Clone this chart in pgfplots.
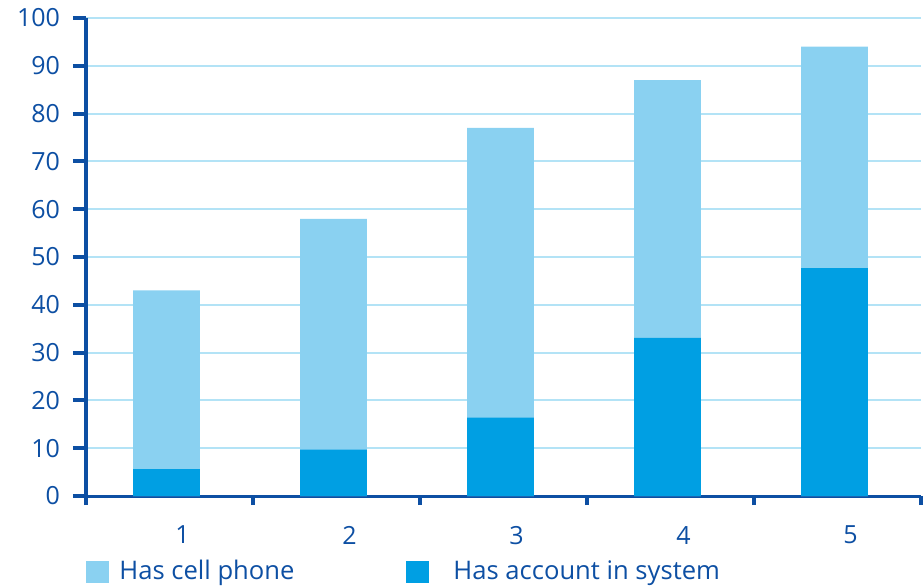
\documentclass[border=0pt]{standalone}
\usepackage{pgfplots}
\pgfplotsset{compat=1.18}
\usepackage{fontspec}
\setmainfont{Open Sans}
\definecolor{phone}{HTML}{8AD1F1}
\definecolor{account}{HTML}{009FE3}
\definecolor{axisblue}{HTML}{0D4FA3}
\definecolor{gridblue}{HTML}{B3E3F6}

\begin{document}
\begin{tikzpicture}
\begin{axis}[
  at={(0,0)}, anchor=south west,
  scale only axis, width=417.5pt, height=239pt,
  xmin=0.5, xmax=5.5, ymin=0, ymax=100,
  axis lines=left,
  axis line style={-, axisblue},
  x axis line style={line width=1.5pt},
  y axis line style={line width=2pt},
  tick align=outside,
  tick style={axisblue, line width=2pt},
  xtick={1,...,5},
  major x tick style={draw=none},
  minor xtick={0.5,1.5,...,5.5},
  minor tick length=4.5pt,
  ytick={0,10,...,100},
  major tick length=6.5pt,
  ymajorgrids,
  major grid style={gridblue, line width=1pt},
  /pgf/number format/assume math mode=true,
  every tick label/.append style={font=\fontsize{12.5}{15}\selectfont, text=axisblue},
  xticklabel style={xshift=6.5pt, yshift=-5pt},
  yticklabel style={xshift=-3pt},
  legend style={
    at={(rel axis cs:0,0)}, anchor=north west, yshift=-30pt,
    draw=none, fill=none, inner sep=0pt,
    font=\fontsize{12.8}{15}\selectfont, text=axisblue,
    legend columns=2,
    /tikz/every even column/.append style={column sep=54pt},
  },
  legend cell align=left,
  legend image code/.code={\fill (0pt,-5.5pt) rectangle (11.5pt,5.5pt);},
]
% share of people with a cell phone
\addplot[ybar, bar width=0.4, bar shift=-1.5pt, fill=phone, draw=none]
  coordinates {(1,43) (2,58) (3,77) (4,87) (5,94)};
% share of people with an account in the system
\addplot[ybar, bar width=0.4, bar shift=-1.5pt, fill=account, draw=none]
  coordinates {(1,5.6) (2,9.7) (3,16.4) (4,33.1) (5,47.7)};
\legend{\hspace{3pt}Has cell phone, \hspace{10pt}Has account in system}
\end{axis}
\pgfresetboundingbox
\path (-43pt,-45pt) rectangle (419pt,248pt);
\end{tikzpicture}
\end{document}
